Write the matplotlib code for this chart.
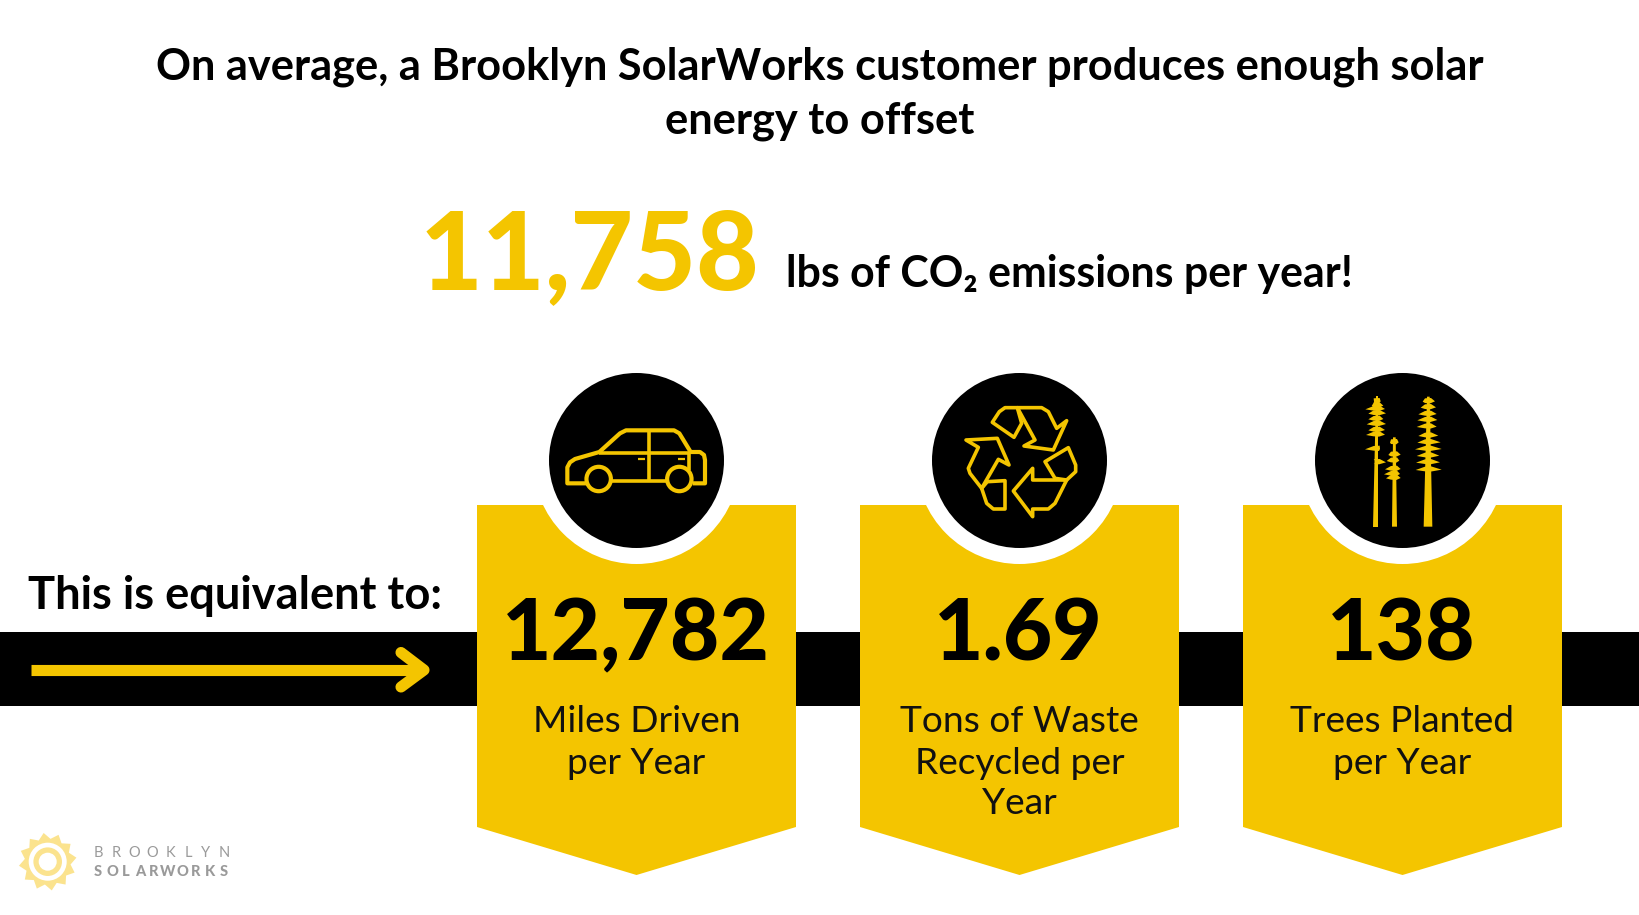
#!/usr/bin/env python3
"""Brooklyn SolarWorks offset infographic, drawn in pixel coordinates."""

import numpy as np
import matplotlib
matplotlib.use("Agg")
import matplotlib.pyplot as plt
from matplotlib.patches import Circle, Polygon, Rectangle

TITLE_LINES = ["On average, a Brooklyn SolarWorks customer produces enough solar", "energy to offset"]
HEADLINE_VALUE = "11,758"
HEADLINE_UNIT = "lbs of CO₂ emissions per year!"
LEAD_IN = "This is equivalent to:"
VALUES = ["12,782", "1.69", "138"]
LABELS = ["Miles Driven\nper Year", "Tons of Waste\nRecycled per\nYear", "Trees Planted\nper Year"]
LOGO_TOP = "BROOKLYN"
LOGO_BOTTOM = "SOLARWORKS"

YELLOW = "#F4C500"
FONT = ["Lato", "DejaVu Sans"]

W, H = 1640, 915
fig = plt.figure(figsize=(W / 100, H / 100), dpi=100, facecolor="white")
ax = fig.add_axes([0, 0, 1, 1])
ax.set_xlim(0, W)
ax.set_ylim(H, 0)
ax.axis("off")


def to_px(points, ox, oy):
    # zoomed crop coords (3x) back to image pixels
    return [(ox + x / 3, oy + y / 3) for x, y in points]


def outline(points, ox, oy, lw=2.6, z=6):
    ax.add_patch(Polygon(to_px(points, ox, oy), closed=True, fill=False, ec=YELLOW, lw=lw,
                         joinstyle="round", zorder=z))


def stroke(points, ox, oy, lw=2.6, z=6):
    xy = np.array(to_px(points, ox, oy))
    ax.plot(xy[:, 0], xy[:, 1], color=YELLOW, lw=lw, solid_capstyle="butt",
            solid_joinstyle="round", zorder=z)


# black band behind the cards
ax.add_patch(Rectangle((0, 632), W, 74, fc="black", ec="none", zorder=1))

# cards with the white notch and black badge
card_left = [477, 860, 1243]
card_w = 319
for i, x0 in enumerate(card_left):
    cx = x0 + card_w / 2
    ax.add_patch(Polygon([(x0, 505), (x0 + card_w, 505), (x0 + card_w, 827), (cx, 875), (x0, 827)],
                         closed=True, fc=YELLOW, ec="none", zorder=2))
    ax.add_patch(Circle((cx, 460.5), 103.5, fc="white", ec="none", zorder=3))
    ax.add_patch(Circle((cx, 460.5), 87.5, fc="black", ec="none", zorder=4))
    ax.text(cx - 1, 636, VALUES[i], family=FONT, weight="black", fontsize=61.5, color="black",
            ha="center", va="center", zorder=5)
    for k, line in enumerate(LABELS[i].split("\n")):
        ax.text(cx, 722 + k * 41, line, family=FONT, fontsize=26.7, color="#111111",
                ha="center", va="center", zorder=5)

# car icon
ox, oy = 520, 360
stroke([(200, 370), (142, 370), (142, 322), (150, 307), (165, 297), (238, 276), (300, 220), (318, 211),
        (462, 211), (478, 220), (512, 276), (540, 276), (552, 285), (555, 300), (555, 370), (518, 370)], ox, oy, lw=3)
stroke([(272, 364), (440, 364)], ox, oy)
stroke([(238, 278), (510, 278)], ox, oy)
stroke([(386, 215), (386, 362)], ox, oy)
stroke([(508, 278), (508, 330)], ox, oy)
stroke([(355, 296), (375, 296)], ox, oy, lw=1.6)
stroke([(475, 296), (495, 296)], ox, oy, lw=1.6)
for wx in (236, 478):
    ax.add_patch(Circle((ox + wx / 3, oy + 357 / 3), 12.2, fc="black", ec=YELLOW, lw=3, zorder=6))

# recycle icon
ox, oy = 910, 360
outline([(322, 143), (395, 143), (415, 155), (440, 205), (470, 182), (430, 270), (342, 258), (375, 240)], ox, oy)
outline([(322, 143), (285, 143), (268, 155), (247, 187), (312, 232), (335, 190)], ox, oy)
outline([(168, 240), (262, 235), (297, 315), (265, 298), (215, 385), (180, 340), (175, 325), (205, 262)], ox, oy)
outline([(215, 385), (232, 365), (285, 362), (285, 447), (250, 447), (230, 430)], ox, oy)
outline([(368, 325), (368, 360), (470, 360), (435, 430), (415, 447), (368, 447), (368, 470), (310, 393)], ox, oy)
outline([(435, 355), (405, 305), (475, 263), (497, 315), (497, 335), (470, 360)], ox, oy)

# tree icon
ox, oy = 1300, 360
trees = [
    (231, 108, 219, 235, [(122, 222, 242), (135, 215, 250), (145, 196, 255), (158, 205, 258), (175, 205, 250),
                          (190, 200, 258), (208, 205, 255), (222, 198, 255), (265, 195, 240), (305, 232, 258)]),
    (283, 232, 276, 291, [(245, 270, 296), (282, 265, 302), (300, 260, 298), (325, 255, 302), (340, 252, 300), (352, 258, 302)]),
    (385, 110, 371, 397, [(122, 368, 405), (140, 362, 408), (160, 355, 410), (178, 352, 412), (198, 350, 410),
                          (225, 355, 415), (245, 352, 422), (265, 345, 425), (285, 350, 418), (305, 348, 420), (327, 347, 425)]),
]
for cx, top, bl, br, branches in trees:
    ax.add_patch(Polygon(to_px([(cx - 4, top), (cx + 4, top), (br, 500), (bl, 500)], ox, oy), fc=YELLOW, ec="none", zorder=6))
    for y, xl, xr in branches:
        ax.add_patch(Polygon(to_px([(xl, y + 3), (cx - 10, y - 7), (cx + 8, y - 8), (xr, y + 2), (cx + 6, y + 8), (cx - 10, y + 7)], ox, oy),
                             fc=YELLOW, ec="none", zorder=6))

# headings
ax.text(820, 67, TITLE_LINES[0], family=FONT, weight="bold", fontsize=31.2, color="black", ha="center", va="center")
ax.text(820, 121, TITLE_LINES[1], family=FONT, weight="bold", fontsize=31.2, color="black", ha="center", va="center")
ax.text(589, 258, HEADLINE_VALUE, family=FONT, weight="black", fontsize=78, color=YELLOW, ha="center", va="center")
ax.text(786, 274, HEADLINE_UNIT, family=FONT, weight="bold", fontsize=30.9, color="black", ha="left", va="center")
ax.text(28, 596, LEAD_IN, family=FONT, weight="bold", fontsize=32.6, color="black", ha="left", va="center")

# arrow on the band
ax.plot([31, 424], [669.5, 669.5], color=YELLOW, lw=8, solid_capstyle="butt", zorder=2)
ax.plot([401, 424, 401], [652.5, 670, 687], color=YELLOW, lw=8, solid_capstyle="round",
        solid_joinstyle="round", zorder=2)

# logo
sun_c = np.array([47.7, 861.7])
ang = np.deg2rad(np.arange(0, 360, 15) - 8)
rad = np.where(np.arange(24) % 2 == 0, 29, 23)
ax.add_patch(Polygon(np.c_[sun_c[0] + rad * np.cos(ang), sun_c[1] + rad * np.sin(ang)], fc="#FBE38E", ec="none"))
ax.add_patch(Circle(sun_c, 19, fc="white", ec="none"))
ax.add_patch(Circle(sun_c, 14.3, fc="#FBE38E", ec="none"))
ax.add_patch(Circle(sun_c, 9, fc="white", ec="none"))
for s, x in zip(LOGO_TOP, np.linspace(98, 224, len(LOGO_TOP))):
    ax.text(x, 853, s, family=FONT, fontsize=10.5, color="#9A9A9A", ha="center", va="center")
for s, x in zip(LOGO_BOTTOM, np.linspace(98, 224, len(LOGO_BOTTOM))):
    ax.text(x, 872, s, family=FONT, weight="black", fontsize=10.5, color="#9A9A9A", ha="center", va="center")

fig.savefig("out.png", dpi=100, facecolor="white")
